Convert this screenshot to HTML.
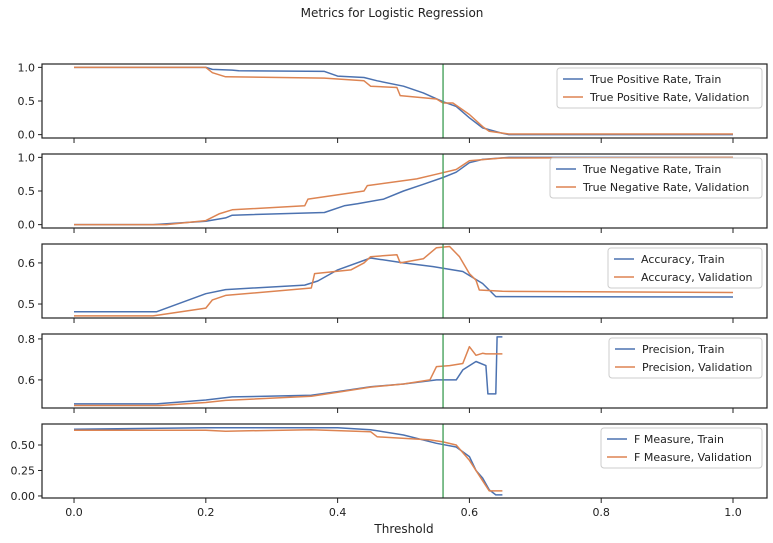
<!DOCTYPE html>
<html><head><meta charset="utf-8"><style>
body{margin:0;background:#fff;}
svg{display:block;font-family:"DejaVu Sans","Liberation Sans",sans-serif;}
</style></head><body>
<svg id="chart" width="773" height="543" viewBox="0 0 773 543">
<text x="392" y="17" font-size="12" text-anchor="middle" fill="#222">Metrics for Logistic Regression</text>
<text x="404" y="533" font-size="12" text-anchor="middle" fill="#222">Threshold</text>
</svg>
<script>
const xTicks=[0,0.2,0.4,0.6,0.8,1.0];
const xTickLabels=["0.0","0.2","0.4","0.6","0.8","1.0"];
const threshold=0.56;
const tprTrainT=[0,0.2,0.21,0.24,0.25,0.38,0.4,0.44,0.46,0.5,0.53,0.56,0.58,0.6,0.62,0.65,0.66,1.0];
const tprTrainV=[1.0,1.0,0.97,0.96,0.95,0.94,0.87,0.85,0.8,0.72,0.62,0.49,0.42,0.25,0.1,0.02,0.0,0.0];
const tprValT=[0,0.2,0.21,0.23,0.38,0.44,0.45,0.49,0.495,0.55,0.56,0.575,0.6,0.62,0.63,0.66,1.0];
const tprValV=[1.0,1.0,0.92,0.86,0.84,0.8,0.72,0.7,0.58,0.53,0.47,0.47,0.3,0.12,0.05,0.01,0.01];
const tnrTrainT=[0,0.12,0.2,0.23,0.24,0.38,0.41,0.43,0.47,0.5,0.53,0.56,0.58,0.6,0.62,0.66,1.0];
const tnrTrainV=[0,0.0,0.05,0.1,0.14,0.18,0.28,0.31,0.38,0.5,0.6,0.7,0.78,0.92,0.97,1.0,1.0];
const tnrValT=[0,0.14,0.2,0.22,0.24,0.35,0.355,0.44,0.445,0.52,0.55,0.58,0.6,0.65,1.0];
const tnrValV=[0,0.0,0.06,0.16,0.22,0.28,0.38,0.5,0.58,0.68,0.75,0.82,0.95,0.99,1.0];
const accTrainT=[0,0.125,0.2,0.23,0.35,0.37,0.4,0.45,0.5,0.545,0.56,0.59,0.62,0.64,1.0];
const accTrainV=[0.481,0.481,0.525,0.535,0.546,0.556,0.583,0.612,0.6,0.591,0.587,0.579,0.55,0.518,0.517];
const accValT=[0,0.12,0.2,0.21,0.23,0.36,0.365,0.42,0.44,0.45,0.49,0.495,0.53,0.55,0.57,0.585,0.6,0.61,0.615,0.65,1.0];
const accValV=[0.471,0.471,0.49,0.51,0.521,0.539,0.574,0.583,0.6,0.615,0.62,0.6,0.61,0.637,0.64,0.615,0.574,0.558,0.534,0.531,0.528];
const precTrainT=[0,0.125,0.2,0.24,0.36,0.4,0.45,0.5,0.55,0.58,0.59,0.61,0.625,0.628,0.64,0.642,0.65];
const precTrainV=[0.483,0.483,0.502,0.517,0.525,0.543,0.567,0.58,0.6,0.6,0.649,0.69,0.67,0.532,0.532,0.81,0.81];
const precValT=[0,0.13,0.2,0.23,0.36,0.4,0.45,0.5,0.54,0.55,0.57,0.59,0.6,0.61,0.62,0.625,0.65];
const precValV=[0.475,0.475,0.49,0.5,0.52,0.54,0.565,0.58,0.6,0.665,0.67,0.68,0.762,0.72,0.73,0.727,0.727];
const fTrainT=[0,0.2,0.4,0.45,0.5,0.55,0.58,0.6,0.61,0.62,0.63,0.64,0.65];
const fTrainV=[0.654,0.67,0.67,0.65,0.598,0.517,0.48,0.386,0.25,0.176,0.06,0.01,0.01];
const fValT=[0,0.2,0.23,0.36,0.45,0.46,0.54,0.56,0.58,0.6,0.62,0.63,0.65];
const fValV=[0.645,0.645,0.635,0.65,0.63,0.58,0.55,0.53,0.5,0.35,0.15,0.05,0.05];

const panels=[
 {top:64,bot:138,ymin:-0.05,ymax:1.05,ticks:[0,0.5,1.0],labels:["0.0","0.5","1.0"],name:"tpr",
  s:[[tprTrainT,tprTrainV],[tprValT,tprValV]],leg:["True Positive Rate, Train","True Positive Rate, Validation"],lx:557},
 {top:154,bot:228,ymin:-0.05,ymax:1.05,ticks:[0,0.5,1.0],labels:["0.0","0.5","1.0"],name:"tnr",
  s:[[tnrTrainT,tnrTrainV],[tnrValT,tnrValV]],leg:["True Negative Rate, Train","True Negative Rate, Validation"],lx:550},
 {top:244,bot:318,ymin:0.466,ymax:0.646,ticks:[0.5,0.6],labels:["0.5","0.6"],name:"accuracy",
  s:[[accTrainT,accTrainV],[accValT,accValV]],leg:["Accuracy, Train","Accuracy, Validation"],lx:608},
 {top:334,bot:408,ymin:0.463,ymax:0.824,ticks:[0.6,0.8],labels:["0.6","0.8"],name:"precision",
  s:[[precTrainT,precTrainV],[precValT,precValV]],leg:["Precision, Train","Precision, Validation"],lx:609},
 {top:424,bot:498,ymin:-0.02,ymax:0.706,ticks:[0,0.25,0.5],labels:["0.00","0.25","0.50"],name:"f-measure",
  s:[[fTrainT,fTrainV],[fValT,fValV]],leg:["F Measure, Train","F Measure, Validation"],lx:601}
];
const colors=["#4c72b0","#dd8452"];
const L=42,R=767,xmin=-0.0486,xmax=1.0516;
const X=t=>L+(t-xmin)/(xmax-xmin)*(R-L);
const svg=document.getElementById('chart');
const NS="http://www.w3.org/2000/svg";
function mk(tag,attrs,parent){const e=document.createElementNS(NS,tag);for(const k in attrs)e.setAttribute(k,attrs[k]);(parent||svg).appendChild(e);return e;}
panels.forEach((p,pi)=>{
 const Y=v=>p.bot-(v-p.ymin)/(p.ymax-p.ymin)*(p.bot-p.top);
 const g=mk('g',{});
 
 
 const clipId='clip'+pi;
 const cp=mk('clipPath',{id:clipId},g);mk('rect',{x:L,y:p.top,width:R-L,height:p.bot-p.top},cp);
 p.ticks.forEach((t,i)=>{
  const y=Y(t);
  const tk=mk('line',{x1:L-4,x2:L,y1:y,y2:y,stroke:'#222','stroke-width':1},g);
  
  
  const tx=mk('text',{x:L-7,y:y+4,'font-size':11,'text-anchor':'end',fill:'#222'},g);
  tx.textContent=p.labels[i];
  
  
 });
 xTicks.forEach((t,i)=>{
  const x=X(t);
  const tk=mk('line',{x1:x,x2:x,y1:p.bot,y2:p.bot+5,stroke:'#222','stroke-width':1},g);
  
  
  if(pi===4){const tx=mk('text',{x:x,y:p.bot+18,'font-size':11,'text-anchor':'middle',fill:'#222'},g);
   tx.textContent=xTickLabels[i];
   
   }
 });
 p.s.forEach((s,si)=>{
  const [T,V]=s;
  const pts=T.map((t,i)=>X(t).toFixed(1)+','+Y(V[i]).toFixed(1)).join(' ');
  const line=mk('polyline',{points:pts,fill:'none',stroke:colors[si],'stroke-width':1.5,'stroke-linejoin':'round','clip-path':'url(#'+clipId+')'},g);
  
  
 });
 const vl=mk('line',{x1:X(threshold),x2:X(threshold),y1:p.top,y2:p.bot,stroke:'#55a868','stroke-width':1.5},g);
 
 
 const fr=mk('rect',{x:L,y:p.top,width:R-L,height:p.bot-p.top,fill:'none',stroke:'#222','stroke-width':1.2},g);
 
 
 const lg=mk('g',{},g);
 
 
 mk('rect',{x:p.lx,y:p.top+4,width:762-p.lx,height:40,rx:3,fill:'#fff','fill-opacity':0.85,stroke:'#ccc'},lg);
 p.leg.forEach((txt,li)=>{
  const y=p.top+15+li*18;
  mk('line',{x1:p.lx+6,x2:p.lx+26,y1:y,y2:y,stroke:colors[li],'stroke-width':1.5},lg);
  const t=mk('text',{x:p.lx+33,y:y+4,'font-size':11,fill:'#222'},lg);
  t.textContent=txt;
  
  
 });
});
</script>
</body></html>
